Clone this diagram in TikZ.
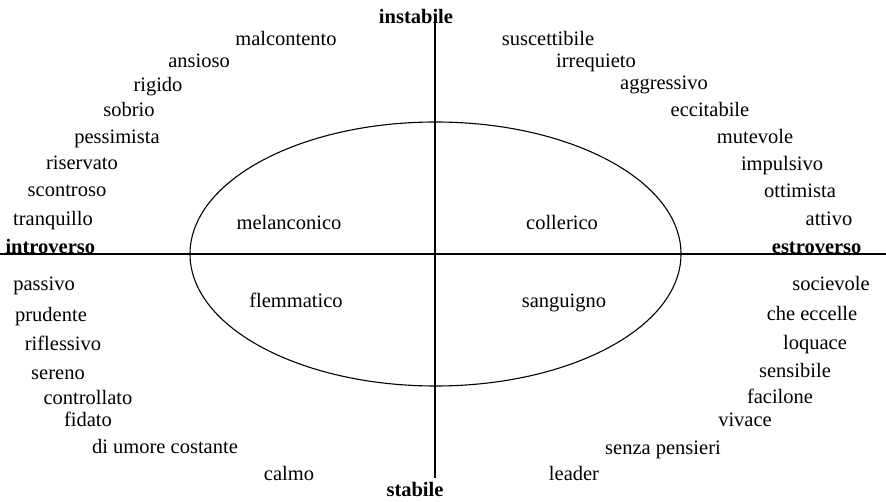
\documentclass[tikz,border=0pt]{standalone}
\usepackage{fontspec}
\setmainfont{Liberation Serif}
\usetikzlibrary{positioning, shapes.geometric}

\begin{document}
\begin{tikzpicture}[x=1pt,y=-1pt,line width=1.1pt,
		trait/.style={anchor=mid,inner sep=0pt,yshift=-5pt,font=\fontsize{20.5}{24}\selectfont},
		pole/.style={trait,font=\fontsize{20.5}{24}\selectfont\bfseries}]
		
		\useasboundingbox (0,0) rectangle (886,502);
		
		% axes
		\coordinate (top) at (435,21);
		\coordinate (bottom) at (435,478);
		\coordinate (left) at (0,254);
		\coordinate (right) at (886,254);
		\draw (top) -- (bottom);
		\draw (left) -- (right);
		
		\node (temperamenti) [draw,ellipse,inner sep=0pt,minimum width=491pt,minimum height=264pt] at (435.5,254) {};
		
		\node (instabile) [pole] at (416,16) {instabile};
		\node (stabile) [pole] at (415,489) {stabile};
		\node (introverso) [pole,anchor=mid west] at (5,246) {introverso};
		\node (estroverso) [pole,anchor=mid east] at (862,246) {estroverso};
		
		\node (melanconico) [trait] at (289,222) {melanconico};
		\node (collerico) [trait] at (562,222) {collerico};
		\node (flemmatico) [trait] at (296,300) {flemmatico};
		\node (sanguigno) [trait] at (564,300) {sanguigno};
		
		% instabile - introverso
		\node (malcontento) [trait] at (286,38) {malcontento};
		\node (ansioso) [trait] at (199,60) {ansioso};
		\node (rigido) [trait] at (158,84) {rigido};
		\node (sobrio) [trait] at (129,109) {sobrio};
		\node (pessimista) [trait] at (117,136) {pessimista};
		\node (riservato) [trait] at (82,162) {riservato};
		\node (scontroso) [trait] at (67,189) {scontroso};
		\node (tranquillo) [trait] at (53,218) {tranquillo};
		
		% instabile - estroverso
		\node (suscettibile) [trait] at (548,38) {suscettibile};
		\node (irrequieto) [trait] at (596,60) {irrequieto};
		\node (aggressivo) [trait] at (664,82) {aggressivo};
		\node (eccitabile) [trait] at (710,109) {eccitabile};
		\node (mutevole) [trait] at (755,136) {mutevole};
		\node (impulsivo) [trait] at (782,163) {impulsivo};
		\node (ottimista) [trait] at (800,190) {ottimista};
		\node (attivo) [trait] at (829,218) {attivo};
		
		% stabile - introverso
		\node (passivo) [trait] at (44,283) {passivo};
		\node (prudente) [trait] at (51,314) {prudente};
		\node (riflessivo) [trait] at (63,343) {riflessivo};
		\node (sereno) [trait] at (58,372) {sereno};
		\node (controllato) [trait] at (88,397) {controllato};
		\node (fidato) [trait] at (88,419) {fidato};
		\node (costante) [trait] at (165,446) {di umore costante};
		\node (calmo) [trait] at (289,473) {calmo};
		
		% stabile - estroverso
		\node (socievole) [trait] at (831,283) {socievole};
		\node (eccelle) [trait] at (812,313) {che eccelle};
		\node (loquace) [trait] at (815,342) {loquace};
		\node (sensibile) [trait] at (795,370) {sensibile};
		\node (facilone) [trait] at (780,396) {facilone};
		\node (vivace) [trait] at (745,419) {vivace};
		\node (pensieri) [trait] at (663,447) {senza pensieri};
		\node (leader) [trait] at (574,473) {leader};
	\end{tikzpicture}
\end{document}
